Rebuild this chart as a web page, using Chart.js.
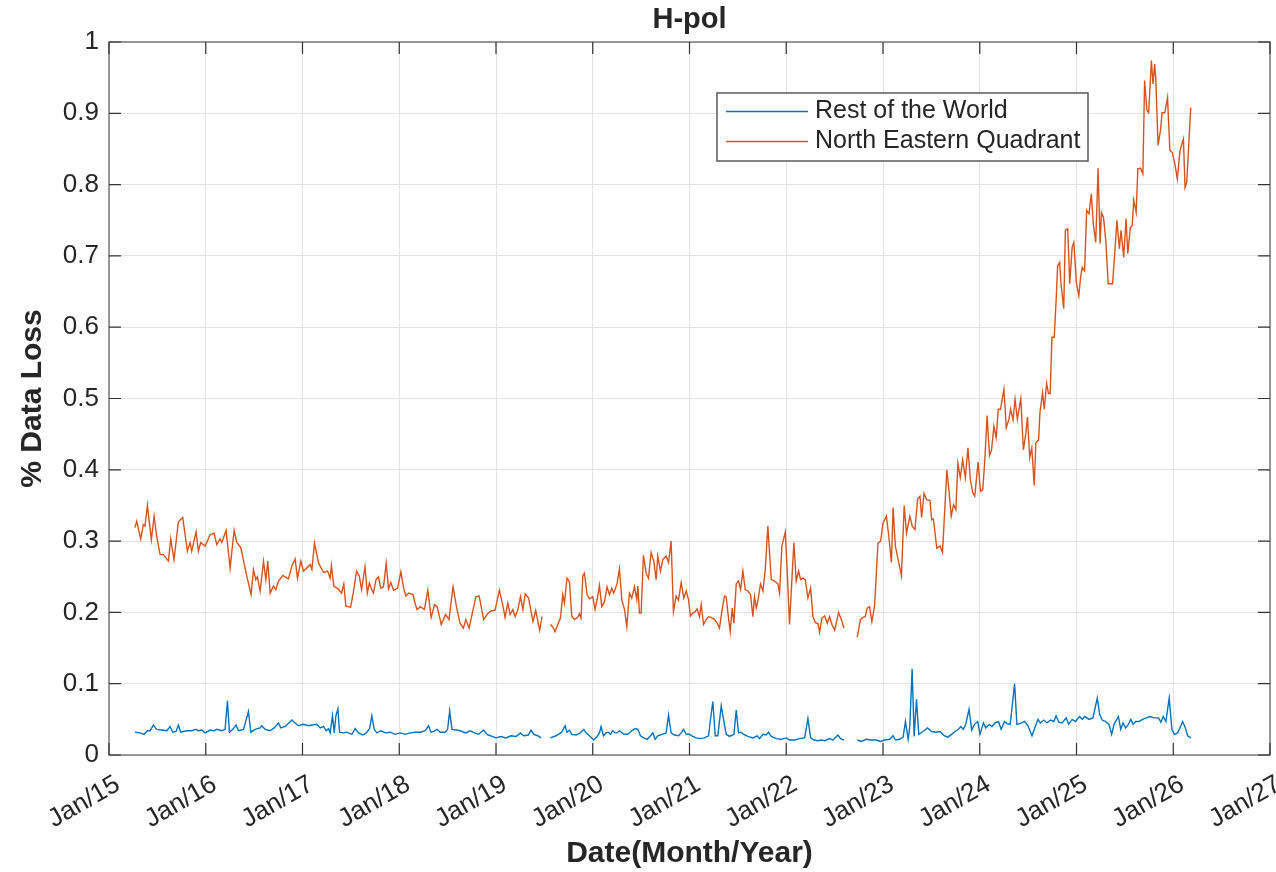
<!DOCTYPE html>
<html>
<head>
<meta charset="utf-8">
<title>H-pol</title>
<script src="https://cdn.jsdelivr.net/npm/chart.js@4.4.0/dist/chart.umd.min.js"></script>
<style>
  html, body { margin: 0; padding: 0; background: #fff; }
  #wrap { width: 1276px; height: 872px; }
</style>
</head>
<body>
<div id="wrap"><canvas id="myChart" width="1276" height="872"></canvas></div>
<script>
// dates are decimal years, null value = no data (gap in the line)
var rowDates = [
  2015.269, 2015.321, 2015.362, 2015.397, 2015.424, 2015.459, 2015.493, 2015.545, 2015.597, 2015.631,
  2015.659, 2015.693, 2015.717, 2015.741, 2015.803, 2015.855, 2015.900, 2015.924, 2015.959, 2015.993,
  2016.045, 2016.086, 2016.114, 2016.166, 2016.200, 2016.224, 2016.245, 2016.279, 2016.314, 2016.338,
  2016.390, 2016.441, 2016.466, 2016.510, 2016.562, 2016.579, 2016.614, 2016.666, 2016.707, 2016.752,
  2016.776, 2016.821, 2016.866, 2016.890, 2016.914, 2016.959, 2017.010, 2017.062, 2017.097, 2017.148,
  2017.183, 2017.217, 2017.245, 2017.269, 2017.286, 2017.310, 2017.328, 2017.345, 2017.366, 2017.383,
  2017.424, 2017.459, 2017.510, 2017.545, 2017.579, 2017.624, 2017.659, 2017.693, 2017.717, 2017.741,
  2017.769, 2017.810, 2017.855, 2017.907, 2017.959, 2018.010, 2018.062, 2018.114, 2018.166, 2018.217,
  2018.269, 2018.303, 2018.328, 2018.355, 2018.390, 2018.424, 2018.476, 2018.500, 2018.521, 2018.545,
  2018.590, 2018.631, 2018.683, 2018.734, 2018.776, 2018.821, 2018.872, 2018.907, 2018.941, 2019.000,
  2019.052, 2019.103, 2019.155, 2019.207, 2019.252, 2019.286, 2019.334, 2019.362, 2019.390, 2019.431,
  2019.466, 2019.510, 2019.562, 2019.621, 2019.679, 2019.714, 2019.734, 2019.759, 2019.783, 2019.828,
  2019.872, 2019.907, 2019.931, 2019.966, 2020.010, 2020.045, 2020.069, 2020.086, 2020.110, 2020.138,
  2020.162, 2020.183, 2020.207, 2020.231, 2020.252, 2020.276, 2020.321, 2020.362, 2020.403, 2020.438,
  2020.466, 2020.493, 2020.528, 2020.562, 2020.597, 2020.621, 2020.645, 2020.672, 2020.714, 2020.759,
  2020.783, 2020.810, 2020.845, 2020.886, 2020.914, 2020.938, 2020.966, 2021.000, 2021.034, 2021.069,
  2021.114, 2021.155, 2021.197, 2021.217, 2021.241, 2021.266, 2021.293, 2021.328, 2021.352, 2021.379,
  2021.414, 2021.459, 2021.483, 2021.507, 2021.528, 2021.562, 2021.603, 2021.655, 2021.700, 2021.724,
  2021.759, 2021.793, 2021.817, 2021.845, 2021.897, 2021.948, 2022.000, 2022.034, 2022.086, 2022.138,
  2022.190, 2022.224, 2022.252, 2022.286, 2022.328, 2022.362, 2022.397, 2022.448, 2022.483, 2022.534,
  2022.562, 2022.597, 2022.660, 2022.734, 2022.775, 2022.827, 2022.879, 2022.931, 2022.976, 2023.017,
  2023.069, 2023.104, 2023.128, 2023.173, 2023.208, 2023.232, 2023.260, 2023.277, 2023.301, 2023.322,
  2023.346, 2023.370, 2023.415, 2023.460, 2023.502, 2023.543, 2023.588, 2023.633, 2023.668, 2023.709,
  2023.744, 2023.779, 2023.806, 2023.830, 2023.855, 2023.889, 2023.917, 2023.945, 2023.979, 2024.003,
  2024.038, 2024.062, 2024.097, 2024.125, 2024.159, 2024.194, 2024.221, 2024.256, 2024.280, 2024.315,
  2024.360, 2024.384, 2024.419, 2024.464, 2024.498, 2024.540, 2024.574, 2024.602, 2024.626, 2024.661,
  2024.696, 2024.730, 2024.765, 2024.789, 2024.817, 2024.851, 2024.893, 2024.920, 2024.955, 2024.990,
  2025.031, 2025.059, 2025.087, 2025.128, 2025.170, 2025.215, 2025.239, 2025.266, 2025.301, 2025.336,
  2025.363, 2025.388, 2025.433, 2025.457, 2025.481, 2025.509, 2025.536, 2025.561, 2025.585, 2025.612,
  2025.647, 2025.682, 2025.723, 2025.758, 2025.803, 2025.848, 2025.872, 2025.896, 2025.924, 2025.958,
  2025.986, 2026.010, 2026.045, 2026.069, 2026.097, 2026.125, 2026.149, 2026.183
];
var rowValues = [
  0.032, 0.031, 0.029, 0.034, 0.034, 0.042, 0.036, 0.035, 0.034, 0.040,
  0.032, 0.033, 0.042, 0.032, 0.034, 0.034, 0.036, 0.034, 0.035, 0.031,
  0.035, 0.034, 0.036, 0.034, 0.036, 0.076, 0.032, 0.036, 0.042, 0.034,
  0.036, 0.061, 0.032, 0.036, 0.038, 0.041, 0.036, 0.034, 0.038, 0.045,
  0.038, 0.040, 0.046, 0.049, 0.046, 0.041, 0.043, 0.041, 0.042, 0.043,
  0.038, 0.040, 0.034, 0.037, 0.031, 0.055, 0.031, 0.055, 0.065, 0.032,
  0.031, 0.032, 0.029, 0.037, 0.031, 0.028, 0.031, 0.037, 0.055, 0.036,
  0.031, 0.034, 0.031, 0.032, 0.029, 0.031, 0.029, 0.031, 0.032, 0.032,
  0.034, 0.041, 0.032, 0.033, 0.036, 0.032, 0.032, 0.036, 0.062, 0.036,
  0.035, 0.034, 0.031, 0.034, 0.031, 0.029, 0.035, 0.029, 0.027, 0.024,
  0.026, 0.024, 0.027, 0.026, 0.031, 0.027, 0.028, 0.035, 0.029, 0.027,
  0.024, null, 0.024, 0.027, 0.032, 0.041, 0.032, 0.035, 0.029, 0.028,
  0.031, 0.036, 0.031, 0.027, 0.021, 0.026, 0.031, 0.040, 0.027, 0.031,
  0.032, 0.029, 0.034, 0.031, 0.031, 0.034, 0.029, 0.029, 0.034, 0.037,
  0.036, 0.027, 0.024, 0.022, 0.027, 0.031, 0.022, 0.027, 0.029, 0.031,
  0.056, 0.031, 0.028, 0.027, 0.031, 0.036, 0.029, 0.029, 0.026, 0.024,
  0.023, 0.024, 0.027, 0.050, 0.075, 0.027, 0.027, 0.069, 0.050, 0.029,
  0.026, 0.029, 0.063, 0.031, 0.032, 0.029, 0.026, 0.024, 0.027, 0.023,
  0.029, 0.028, 0.032, 0.026, 0.023, 0.022, 0.024, 0.021, 0.021, 0.023,
  0.024, 0.051, 0.024, 0.021, 0.020, 0.021, 0.020, 0.023, 0.021, 0.028,
  0.023, 0.021, null, 0.021, 0.019, 0.022, 0.021, 0.021, 0.019, 0.021,
  0.022, 0.027, 0.021, 0.022, 0.025, 0.047, 0.022, 0.040, 0.121, 0.026,
  0.078, 0.029, 0.033, 0.038, 0.033, 0.032, 0.033, 0.027, 0.025, 0.029,
  0.033, 0.036, 0.040, 0.036, 0.043, 0.064, 0.035, 0.043, 0.047, 0.029,
  0.045, 0.038, 0.043, 0.040, 0.045, 0.047, 0.036, 0.047, 0.044, 0.043,
  0.100, 0.043, 0.044, 0.047, 0.041, 0.027, 0.040, 0.050, 0.045, 0.049,
  0.045, 0.049, 0.047, 0.055, 0.046, 0.045, 0.052, 0.043, 0.050, 0.047,
  0.054, 0.050, 0.054, 0.050, 0.052, 0.080, 0.057, 0.049, 0.047, 0.043,
  0.029, 0.043, 0.054, 0.036, 0.045, 0.038, 0.043, 0.050, 0.043, 0.047,
  0.047, 0.050, 0.052, 0.054, 0.052, 0.052, 0.046, 0.054, 0.047, 0.080,
  0.036, 0.029, 0.031, 0.038, 0.047, 0.038, 0.027, 0.024
];

var neDates = [
  2015.269, 2015.286, 2015.328, 2015.355, 2015.372, 2015.397, 2015.417, 2015.438, 2015.466, 2015.493,
  2015.528, 2015.562, 2015.614, 2015.638, 2015.672, 2015.717, 2015.762, 2015.810, 2015.838, 2015.855,
  2015.900, 2015.924, 2015.948, 2015.993, 2016.045, 2016.086, 2016.114, 2016.148, 2016.166, 2016.210,
  2016.252, 2016.293, 2016.321, 2016.362, 2016.424, 2016.469, 2016.493, 2016.517, 2016.534, 2016.562,
  2016.597, 2016.621, 2016.641, 2016.666, 2016.700, 2016.724, 2016.752, 2016.797, 2016.855, 2016.890,
  2016.924, 2016.948, 2016.983, 2017.010, 2017.079, 2017.097, 2017.124, 2017.166, 2017.217, 2017.259,
  2017.286, 2017.299, 2017.323, 2017.368, 2017.403, 2017.427, 2017.448, 2017.497, 2017.524, 2017.559,
  2017.587, 2017.611, 2017.646, 2017.670, 2017.691, 2017.715, 2017.733, 2017.760, 2017.785, 2017.809,
  2017.837, 2017.865, 2017.889, 2017.913, 2017.941, 2017.983, 2018.017, 2018.045, 2018.069, 2018.097,
  2018.142, 2018.167, 2018.184, 2018.219, 2018.260, 2018.295, 2018.330, 2018.365, 2018.392, 2018.434,
  2018.479, 2018.514, 2018.556, 2018.594, 2018.628, 2018.663, 2018.688, 2018.722, 2018.757, 2018.792,
  2018.826, 2018.872, 2018.913, 2018.948, 2018.990, 2019.035, 2019.069, 2019.094, 2019.122, 2019.146,
  2019.174, 2019.198, 2019.226, 2019.253, 2019.278, 2019.302, 2019.337, 2019.382, 2019.410, 2019.451,
  2019.476, 2019.520, 2019.562, 2019.586, 2019.610, 2019.638, 2019.666, 2019.690, 2019.707, 2019.734,
  2019.759, 2019.783, 2019.810, 2019.845, 2019.862, 2019.879, 2019.897, 2019.914, 2019.941, 2019.966,
  2020.000, 2020.024, 2020.052, 2020.069, 2020.093, 2020.121, 2020.148, 2020.172, 2020.197, 2020.217,
  2020.231, 2020.252, 2020.276, 2020.300, 2020.328, 2020.352, 2020.379, 2020.403, 2020.431, 2020.455,
  2020.466, 2020.483, 2020.500, 2020.524, 2020.552, 2020.576, 2020.603, 2020.631, 2020.655, 2020.672,
  2020.700, 2020.724, 2020.759, 2020.783, 2020.810, 2020.834, 2020.862, 2020.886, 2020.914, 2020.941,
  2020.966, 2020.990, 2021.010, 2021.034, 2021.059, 2021.079, 2021.103, 2021.121, 2021.145, 2021.172,
  2021.197, 2021.224, 2021.259, 2021.286, 2021.310, 2021.334, 2021.362, 2021.379, 2021.397, 2021.421,
  2021.441, 2021.459, 2021.483, 2021.507, 2021.528, 2021.552, 2021.576, 2021.603, 2021.631, 2021.655,
  2021.672, 2021.690, 2021.707, 2021.734, 2021.759, 2021.783, 2021.810, 2021.845, 2021.879, 2021.914,
  2021.931, 2021.955, 2021.990, 2022.010, 2022.034, 2022.059, 2022.079, 2022.103, 2022.128, 2022.148,
  2022.172, 2022.197, 2022.224, 2022.252, 2022.276, 2022.300, 2022.328, 2022.345, 2022.369, 2022.397,
  2022.424, 2022.448, 2022.472, 2022.500, 2022.517, 2022.541, 2022.569, 2022.597, 2022.660, 2022.733,
  2022.767, 2022.792, 2022.816, 2022.837, 2022.861, 2022.885, 2022.913, 2022.948, 2022.976, 2023.000,
  2023.035, 2023.059, 2023.087, 2023.104, 2023.128, 2023.156, 2023.191, 2023.219, 2023.243, 2023.278,
  2023.302, 2023.330, 2023.358, 2023.382, 2023.399, 2023.424, 2023.451, 2023.486, 2023.503, 2023.521,
  2023.556, 2023.590, 2023.615, 2023.660, 2023.684, 2023.705, 2023.729, 2023.753, 2023.774, 2023.799,
  2023.823, 2023.851, 2023.878, 2023.903, 2023.927, 2023.948, 2023.983, 2024.007, 2024.031, 2024.052,
  2024.076, 2024.101, 2024.122, 2024.146, 2024.170, 2024.191, 2024.215, 2024.250, 2024.274, 2024.302,
  2024.319, 2024.344, 2024.365, 2024.389, 2024.424, 2024.451, 2024.476, 2024.493, 2024.517, 2024.538,
  2024.563, 2024.580, 2024.608, 2024.622, 2024.649, 2024.667, 2024.691, 2024.711, 2024.728, 2024.746,
  2024.770, 2024.791, 2024.805, 2024.826, 2024.840, 2024.868, 2024.885, 2024.909, 2024.930, 2024.955,
  2024.972, 2025.000, 2025.024, 2025.042, 2025.059, 2025.084, 2025.105, 2025.129, 2025.153, 2025.174,
  2025.199, 2025.223, 2025.244, 2025.258, 2025.279, 2025.303, 2025.328, 2025.373, 2025.397, 2025.418,
  2025.443, 2025.460, 2025.488, 2025.512, 2025.530, 2025.557, 2025.575, 2025.592, 2025.617, 2025.634,
  2025.662, 2025.686, 2025.704, 2025.728, 2025.746, 2025.774, 2025.791, 2025.808, 2025.819, 2025.843,
  2025.868, 2025.885, 2025.913, 2025.941, 2025.965, 2025.990, 2026.017, 2026.042, 2026.070, 2026.105,
  2026.122, 2026.139, 2026.157, 2026.181
];
var neValues = [
  0.319, 0.328, 0.303, 0.323, 0.321, 0.350, 0.326, 0.302, 0.335, 0.307,
  0.281, 0.281, 0.272, 0.303, 0.274, 0.327, 0.333, 0.286, 0.298, 0.286,
  0.313, 0.286, 0.298, 0.293, 0.309, 0.311, 0.295, 0.303, 0.298, 0.315,
  0.262, 0.315, 0.298, 0.291, 0.251, 0.225, 0.260, 0.246, 0.250, 0.230,
  0.272, 0.246, 0.272, 0.227, 0.237, 0.232, 0.244, 0.252, 0.247, 0.265,
  0.275, 0.248, 0.272, 0.258, 0.267, 0.260, 0.297, 0.269, 0.256, 0.258,
  0.248, 0.266, 0.237, 0.233, 0.227, 0.240, 0.209, 0.207, 0.227, 0.258,
  0.251, 0.232, 0.264, 0.227, 0.241, 0.232, 0.227, 0.246, 0.250, 0.234,
  0.236, 0.269, 0.233, 0.242, 0.231, 0.234, 0.257, 0.234, 0.223, 0.227,
  0.225, 0.211, 0.204, 0.208, 0.204, 0.231, 0.193, 0.211, 0.208, 0.183,
  0.197, 0.190, 0.236, 0.206, 0.185, 0.178, 0.190, 0.178, 0.200, 0.222,
  0.223, 0.190, 0.198, 0.202, 0.203, 0.231, 0.211, 0.193, 0.213, 0.197,
  0.204, 0.194, 0.204, 0.222, 0.204, 0.226, 0.220, 0.187, 0.203, 0.175,
  0.194, null, 0.183, 0.180, 0.173, 0.183, 0.192, 0.225, 0.213, 0.248,
  0.243, 0.195, 0.190, 0.193, 0.198, 0.192, 0.251, 0.255, 0.225, 0.219,
  0.222, 0.204, 0.223, 0.238, 0.208, 0.215, 0.236, 0.225, 0.234, 0.227,
  0.232, 0.241, 0.261, 0.218, 0.204, 0.180, 0.227, 0.220, 0.236, 0.218,
  0.237, 0.199, 0.199, 0.280, 0.255, 0.248, 0.284, 0.272, 0.246, 0.279,
  0.258, 0.274, 0.279, 0.270, 0.300, 0.201, 0.223, 0.217, 0.242, 0.220,
  0.230, 0.218, 0.195, 0.199, 0.201, 0.205, 0.194, 0.211, 0.183, 0.190,
  0.194, 0.193, 0.190, 0.185, 0.178, 0.201, 0.223, 0.222, 0.199, 0.173,
  0.206, 0.185, 0.240, 0.244, 0.232, 0.258, 0.232, 0.230, 0.225, 0.194,
  0.222, 0.206, 0.216, 0.240, 0.230, 0.260, 0.321, 0.246, 0.244, 0.240,
  0.227, 0.293, 0.313, 0.258, 0.183, 0.248, 0.298, 0.244, 0.258, 0.246,
  0.248, 0.246, 0.220, 0.234, 0.194, 0.186, 0.184, 0.172, 0.192, 0.195,
  0.185, 0.194, 0.183, 0.175, 0.185, 0.200, 0.190, 0.178, null, 0.165,
  0.190, 0.193, 0.194, 0.206, 0.208, 0.187, 0.209, 0.297, 0.300, 0.325,
  0.335, 0.308, 0.270, 0.347, 0.293, 0.274, 0.252, 0.350, 0.311, 0.335,
  0.321, 0.316, 0.359, 0.363, 0.333, 0.367, 0.358, 0.357, 0.330, 0.331,
  0.290, 0.293, 0.284, 0.400, 0.368, 0.335, 0.351, 0.344, 0.409, 0.389,
  0.414, 0.389, 0.431, 0.386, 0.368, 0.363, 0.411, 0.370, 0.372, 0.413,
  0.476, 0.420, 0.428, 0.461, 0.445, 0.485, 0.485, 0.513, 0.459, 0.471,
  0.485, 0.470, 0.499, 0.471, 0.500, 0.428, 0.451, 0.474, 0.417, 0.431,
  0.378, 0.438, 0.442, 0.480, 0.508, 0.485, 0.521, 0.507, 0.507, 0.586,
  0.586, 0.642, 0.686, 0.691, 0.661, 0.626, 0.736, 0.738, 0.661, 0.712,
  0.719, 0.661, 0.644, 0.670, 0.684, 0.679, 0.764, 0.759, 0.787, 0.745,
  0.719, 0.823, 0.717, 0.761, 0.754, 0.721, 0.661, 0.661, 0.707, 0.750,
  0.710, 0.736, 0.698, 0.752, 0.703, 0.740, 0.742, 0.778, 0.761, 0.822,
  0.823, 0.815, 0.946, 0.904, 0.901, 0.974, 0.941, 0.969, 0.950, 0.855,
  0.876, 0.901, 0.901, 0.922, 0.848, 0.845, 0.829, 0.808, 0.848, 0.864,
  0.796, 0.803, 0.848, 0.908
];

var xTickLabels = ['Jan/15', 'Jan/16', 'Jan/17', 'Jan/18', 'Jan/19', 'Jan/20', 'Jan/21',
                   'Jan/22', 'Jan/23', 'Jan/24', 'Jan/25', 'Jan/26', 'Jan/27'];
var yTickLabels = ['0', '0.1', '0.2', '0.3', '0.4', '0.5', '0.6', '0.7', '0.8', '0.9', '1'];

var FONT = "'Liberation Sans', Arial, Helvetica, sans-serif";
var TEXT = '#262626';

function toPoints(dates, values) {
    return dates.map(function (d, i) { return { x: d, y: values[i] }; });
}

// matlab style box + inward ticks on all four sides
var axesBox = {
    id: 'axesBox',
    afterDatasetsDraw: function (chart) {
        var ctx = chart.ctx, a = chart.chartArea, len = 12;
        ctx.save();
        ctx.strokeStyle = '#7a7a7a';
        ctx.lineWidth = 1.5;
        ctx.strokeRect(a.left, a.top, a.right - a.left, a.bottom - a.top);
        ctx.strokeStyle = '#333';
        ctx.lineWidth = 1.2;
        ctx.beginPath();
        chart.scales.x.ticks.forEach(function (t) {
            var px = chart.scales.x.getPixelForValue(t.value);
            ctx.moveTo(px, a.bottom); ctx.lineTo(px, a.bottom - len);
            ctx.moveTo(px, a.top); ctx.lineTo(px, a.top + len);
        });
        chart.scales.y.ticks.forEach(function (t) {
            var py = chart.scales.y.getPixelForValue(t.value);
            ctx.moveTo(a.left, py); ctx.lineTo(a.left + len, py);
            ctx.moveTo(a.right, py); ctx.lineTo(a.right - len, py);
        });
        ctx.stroke();

        // title centred over the axes, like matlab does
        ctx.fillStyle = TEXT;
        ctx.font = 'bold 29px ' + FONT;
        ctx.textAlign = 'center';
        ctx.textBaseline = 'middle';
        ctx.fillText(chart.options.plugins.title.text, (a.left + a.right) / 2, 20);
        ctx.restore();
    }
};

// legend box inside the plot, top right
var boxLegend = {
    id: 'boxLegend',
    afterDraw: function (chart) {
        var ctx = chart.ctx, a = chart.chartArea;
        var x0 = a.right - 553, y0 = a.top + 51, w = 371, h = 68;
        ctx.save();
        ctx.fillStyle = '#fff';
        ctx.fillRect(x0, y0, w, h);
        ctx.strokeStyle = '#5a5a5a';
        ctx.lineWidth = 1.5;
        ctx.strokeRect(x0, y0, w, h);
        ctx.font = '25px ' + FONT;
        ctx.textBaseline = 'middle';
        chart.data.datasets.forEach(function (ds, i) {
            var cy = y0 + 18.5 + i * 30;
            ctx.strokeStyle = ds.borderColor;
            ctx.lineWidth = 1.5;
            ctx.beginPath();
            ctx.moveTo(x0 + 9, cy); ctx.lineTo(x0 + 91, cy);
            ctx.stroke();
            ctx.fillStyle = TEXT;
            ctx.fillText(ds.label, x0 + 98, cy);
        });
        ctx.restore();
    }
};

var ctx = document.getElementById('myChart').getContext('2d');
new Chart(ctx, {
    type: 'line',
    data: {
        datasets: [{
            label: 'Rest of the World',
            data: toPoints(rowDates, rowValues),
            borderColor: '#0072BD',
            borderWidth: 1.4,
            pointRadius: 0,
            tension: 0,
            spanGaps: false
        }, {
            label: 'North Eastern Quadrant',
            data: toPoints(neDates, neValues),
            borderColor: '#D95319',
            borderWidth: 1.4,
            pointRadius: 0,
            tension: 0,
            spanGaps: false
        }]
    },
    plugins: [axesBox, boxLegend],
    options: {
        responsive: false,
        animation: false,
        devicePixelRatio: 1,
        layout: { padding: { left: 0, right: 6, top: 42, bottom: 0 } },
        plugins: {
            legend: { display: false },
            tooltip: { enabled: false },
            title: { display: false, text: 'H-pol' }
        },
        scales: {
            x: {
                type: 'linear',
                min: 2015,
                max: 2027,
                afterFit: function (scale) {
                    scale.height = 117;
                    scale.paddingLeft = 0;
                    scale.paddingRight = 0;
                },
                grid: { color: '#e3e3e3', drawTicks: false },
                border: { display: false },
                ticks: {
                    stepSize: 1,
                    autoSkip: false,
                    minRotation: 30,
                    maxRotation: 30,
                    labelOffset: 9,
                    padding: 14,
                    color: TEXT,
                    font: { family: FONT, size: 26 },
                    callback: function (v, i) { return xTickLabels[i]; }
                },
                title: {
                    display: true,
                    text: 'Date(Month/Year)',
                    color: TEXT,
                    font: { family: FONT, size: 30, weight: 'bold' },
                    padding: { top: 0, bottom: 0 }
                }
            },
            y: {
                min: 0,
                max: 1,
                afterFit: function (scale) {
                    scale.width = 109;
                    scale.paddingTop = 0;
                    scale.paddingBottom = 0;
                },
                grid: { color: '#e3e3e3', drawTicks: false },
                border: { display: false },
                ticks: {
                    stepSize: 0.1,
                    padding: 10,
                    color: TEXT,
                    font: { family: FONT, size: 26 },
                    callback: function (v, i) { return yTickLabels[i]; }
                },
                title: {
                    display: true,
                    text: '% Data Loss',
                    color: TEXT,
                    font: { family: FONT, size: 30, weight: 'bold' },
                    padding: { top: 15, bottom: 0 }
                }
            }
        }
    }
});
</script>
</body>
</html>
